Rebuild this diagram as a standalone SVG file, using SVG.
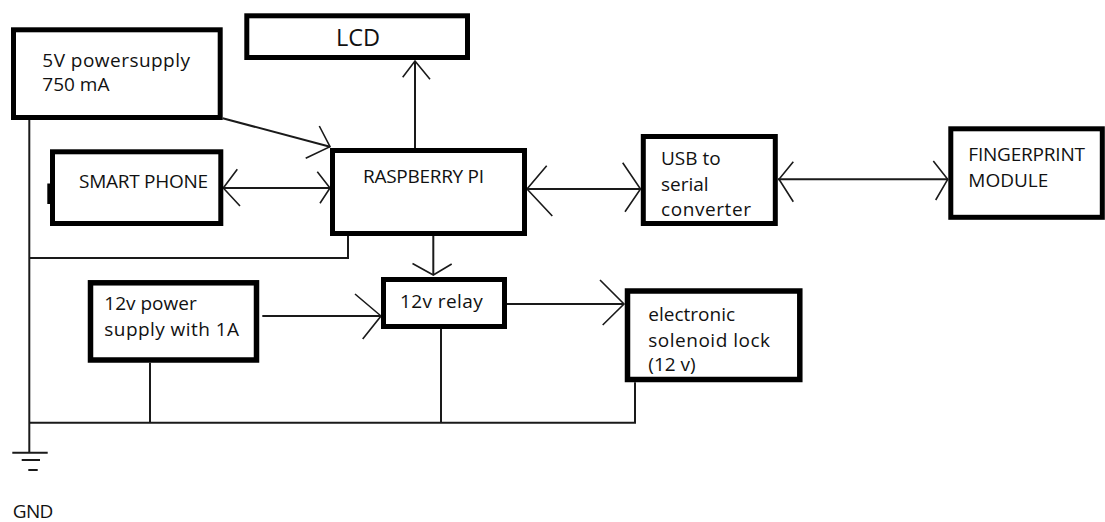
<svg xmlns="http://www.w3.org/2000/svg" width="1105" height="522" viewBox="0 0 1105 522">
<style>
.box{fill:#ffffff;stroke:#000000;stroke-width:5}
.t{font-family:"Open Sans","Noto Sans","DejaVu Sans",sans-serif;font-size:19px;fill:#111111}
.big{font-size:23.5px}
.w{fill:none;stroke:#1a1a1a;stroke-width:2}
.ah{fill:none;stroke:#1a1a1a;stroke-width:1.6}
</style>
<rect width="1105" height="522" fill="#ffffff"/>
<g id="connectors">
  <path class="w" d="M29.3,120 V452"/>
  <path class="w" d="M348,236 V258 H29.3"/>
  <path class="w" d="M150,362.7 V422.7"/>
  <path class="w" d="M441,329 V422.7"/>
  <path class="w" d="M635,382.3 V422.7 H29.3"/>
  <path class="w" d="M415,148 V61"/>
  <path class="ah" d="M402.7,77.3 L415,61 L430,79.3"/>
  <path class="w" d="M222.7,118.3 L330,146.7"/>
  <path class="ah" d="M319.3,126 L330,146.7 L305.7,158.3"/>
  <path class="w" d="M223.3,188 H330"/>
  <path class="ah" d="M237.3,169.3 L223.3,188 L240,206"/>
  <path class="ah" d="M317.3,171.7 L330,188 L320,203.3"/>
  <path class="w" d="M527,189 H640.5"/>
  <path class="ah" d="M546.7,165.7 L527,189 L552.3,216"/>
  <path class="ah" d="M622.7,162.7 L640.5,189 L625,211.7"/>
  <path class="w" d="M778,179.3 H948"/>
  <path class="ah" d="M793.3,161.7 L779,179.3 L793.3,201.7"/>
  <path class="ah" d="M933.3,161 L947.7,179.3 L935.7,200"/>
  <path class="w" d="M433.3,236 V275"/>
  <path class="ah" d="M412.5,263.5 L433.3,275 L451.7,264"/>
  <path class="w" d="M262.3,316 H381"/>
  <path class="ah" d="M355,294 L381,316 L362.7,339"/>
  <path class="w" d="M507,304 H624"/>
  <path class="ah" d="M600,280 L624,304 L602.7,325"/>
</g>
<g id="gnd">
  <path class="w" d="M12.3,452.7 H47.7 M21.7,460 H40 M28.3,470 H37.7"/>
  <text class="t" x="12.7" y="518" textLength="40.7">GND</text>
</g>
<g id="psu5v">
  <rect class="box" x="13.5" y="29.8" width="206.7" height="87.7"/>
  <text class="t" x="42.3" y="67" textLength="147.7">5V powersupply</text>
  <text class="t" x="42.3" y="91">750 mA</text>
</g>
<g id="lcd">
  <rect class="box" x="246.8" y="15.8" width="220.7" height="41.7"/>
  <text class="t big" x="336" y="46" textLength="44">LCD</text>
</g>
<g id="phone">
  <rect class="box" x="52.5" y="151.8" width="168.3" height="71.7"/>
  <rect x="47.3" y="183.5" width="3" height="20.5" fill="#000000"/>
  <text class="t" x="79" y="188.3" textLength="129">SMART PHONE</text>
</g>
<g id="rpi">
  <rect class="box" x="332.5" y="150.5" width="192" height="83"/>
  <text class="t" x="363" y="183" textLength="121">RASPBERRY PI</text>
</g>
<g id="usb">
  <rect class="box" x="643.3" y="136.5" width="132" height="87"/>
  <text class="t" x="661" y="164.5">USB to</text>
  <text class="t" x="661" y="190.5">serial</text>
  <text class="t" x="661" y="216" textLength="90">converter</text>
</g>
<g id="fingerprint">
  <rect class="box" x="950.8" y="128.8" width="151.5" height="88.5"/>
  <text class="t" x="968.3" y="161" textLength="116.7">FINGERPRINT</text>
  <text class="t" x="968.3" y="186.7">MODULE</text>
</g>
<g id="psu12v">
  <rect class="box" x="90.5" y="282.8" width="166" height="77.2" style="stroke-width:5.5"/>
  <text class="t" x="104.3" y="310">12v power</text>
  <text class="t" x="104.3" y="335.7" textLength="134.7">supply with 1A</text>
</g>
<g id="relay">
  <rect class="box" x="383.5" y="279.5" width="121" height="47"/>
  <text class="t" x="400" y="308" textLength="82.7">12v relay</text>
</g>
<g id="lock">
  <rect class="box" x="627.5" y="291" width="172.3" height="88.5" style="stroke-width:5.5"/>
  <text class="t" x="648.3" y="320.7">electronic</text>
  <text class="t" x="648.3" y="346.7" textLength="121.7">solenoid lock</text>
  <text class="t" x="648.3" y="370.5">(12 v)</text>
</g>
</svg>
